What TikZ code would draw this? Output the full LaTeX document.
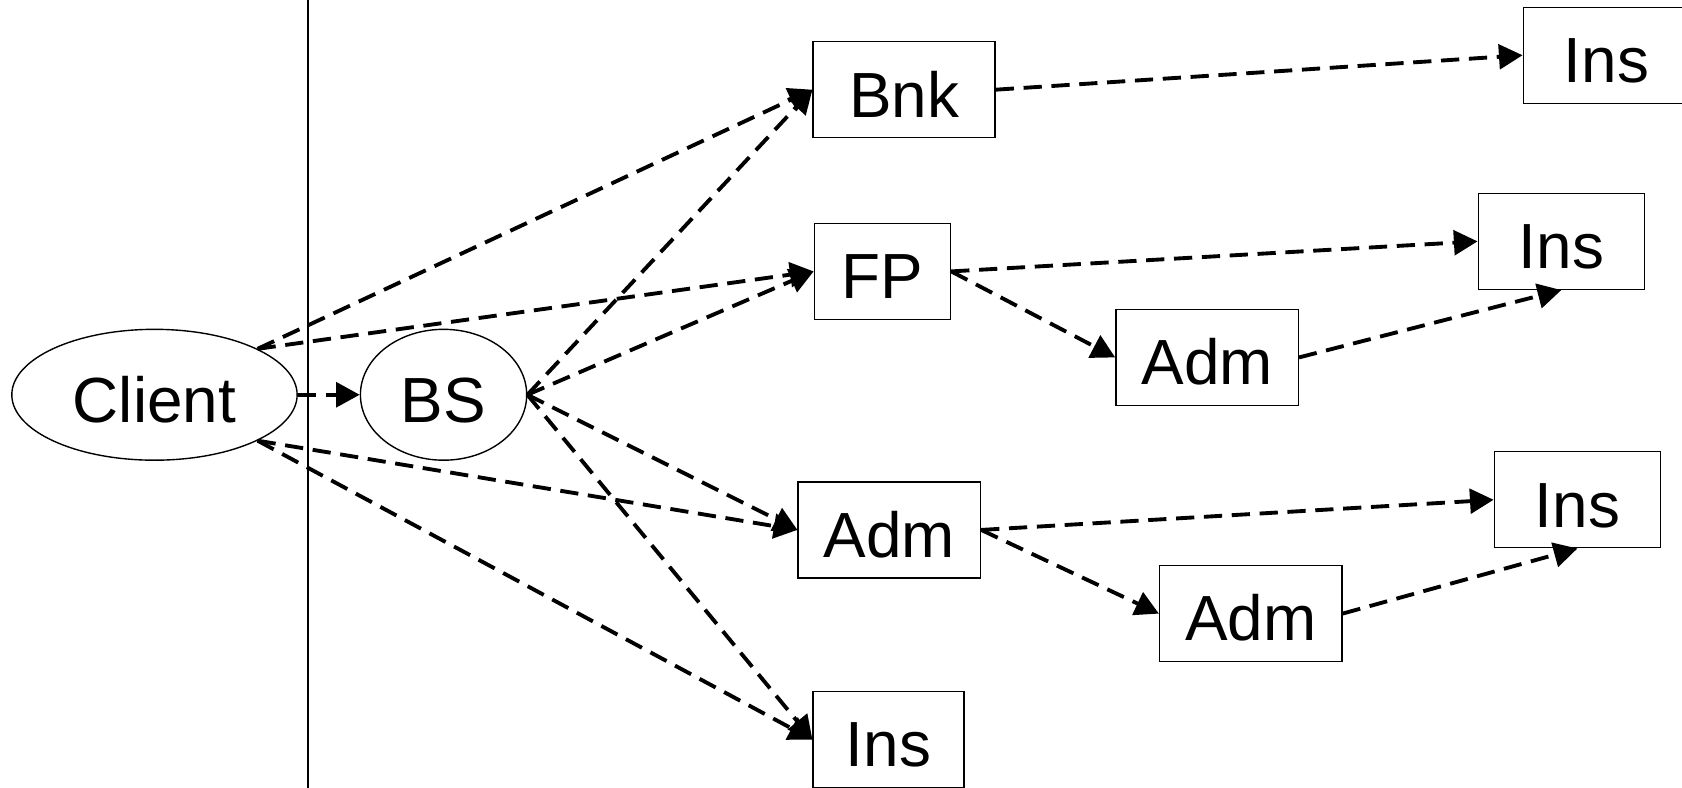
\documentclass[tikz,border=0pt]{standalone}
\usepackage{fontspec}
\setmainfont{Liberation Sans}
\usetikzlibrary{arrows.meta,shapes.geometric}
\begin{document}
\begin{tikzpicture}[x=1pt,y=-1pt,
  lbl/.style={inner sep=0pt, text height=51pt, text depth=0pt,
    font=\fontsize{59.5}{60}\selectfont},
  box/.style={lbl, draw, line width=1.3pt, rectangle, minimum height=89.5pt},
  oval/.style={lbl, draw, line width=1.3pt, ellipse},
  link/.style={line width=3.6pt, dash pattern=on 17pt off 9pt,
    -{Triangle[length=22pt,width=23pt]}}]
\useasboundingbox (0,0) rectangle (1568,734);
% divider
\coordinate (vtop) at (287,-5);
\coordinate (vbot) at (287,740);
\draw[line width=1.3pt] (vtop) -- (vbot);
% nodes
\node[oval, minimum width=266pt, minimum height=122pt] (client) at (144,368) {Client};
\node[oval, minimum width=155pt, minimum height=122pt] (bs) at (413.5,368) {BS};
\node[box, minimum width=169.6pt] (bnk) at (842.8,83.6) {Bnk};
\node[box, minimum width=155pt] (ins1) at (1497.5,51.5) {Ins};
\node[box, minimum width=127pt] (fp) at (822.6,253) {FP};
\node[box, minimum width=155pt] (ins2) at (1455.5,225) {Ins};
\node[box, minimum width=170pt] (adm1) at (1125.3,333.2) {Adm};
\node[box, minimum width=170pt] (adm2) at (829,494) {Adm};
\node[box, minimum width=155pt] (ins3) at (1470.5,465.9) {Ins};
\node[box, minimum width=170pt] (adm3) at (1166,572) {Adm};
\node[box, minimum width=140.6pt] (ins4) at (828.3,689.5) {Ins};
% connectors
\draw[link] (client.24) -- (bnk.west);
\draw[link] (client.24) -- (fp.west);
\draw[link] (client.east) -- (bs.west);
\draw[link] (client.-24) -- (adm2.west);
\draw[link] (client.-24) -- (ins4.west);
\draw[link] (bs.east) -- (bnk.west);
\draw[link] (bs.east) -- (fp.west);
\draw[link] (bs.east) -- (adm2.west);
\draw[link] (bs.east) -- (ins4.west);
\draw[link] (bnk.east) -- (ins1.west);
\draw[link] (fp.east) -- (ins2.west);
\draw[link] (fp.east) -- (adm1.west);
\draw[link] (adm1.east) -- (ins2.south);
\draw[link] (adm2.east) -- (ins3.west);
\draw[link] (adm2.east) -- (adm3.west);
\draw[link] (adm3.east) -- (ins3.south);
\end{tikzpicture}
\end{document}
